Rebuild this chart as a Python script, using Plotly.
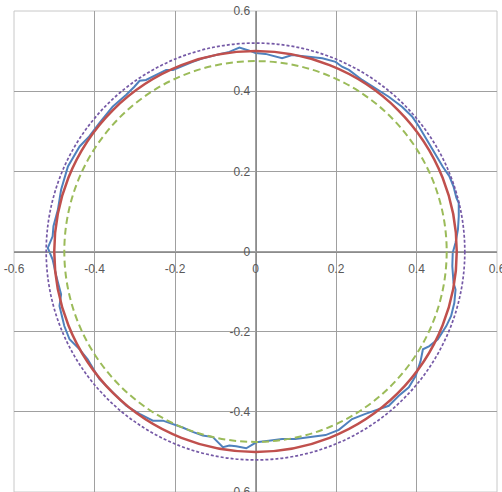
import plotly.graph_objects as go

# Axis ticks
tick_vals = [-0.6, -0.4, -0.2, 0, 0.2, 0.4, 0.6]
tick_text = ["-0.6", "-0.4", "-0.2", "0", "0.2", "0.4", "0.6"]

blue_x = [0.490, 0.497, 0.503, 0.505, 0.505, 0.499, 0.492, 0.482, 0.465, 0.445, 0.427,
          0.406, 0.389, 0.364, 0.331, 0.298, 0.265, 0.232, 0.215, 0.199, 0.166, 0.132,
          0.091, 0.066, 0.050, 0.025, 0.000,
          -0.015, -0.040, -0.065, -0.098, -0.131, -0.156, -0.189, -0.205, -0.222, -0.247,
          -0.272, -0.288, -0.301, -0.321, -0.355, -0.388, -0.413,
          -0.437, -0.466, -0.483, -0.491, -0.502, -0.504, -0.516, -0.504, -0.495, -0.487,
          -0.483, -0.487, -0.475, -0.462, -0.437, -0.417, -0.396,
          -0.388, -0.355, -0.321, -0.288, -0.255, -0.230, -0.205, -0.181, -0.156, -0.131,
          -0.106, -0.081, -0.065, -0.048, -0.023, 0.002,
          0.033, 0.066, 0.099, 0.141, 0.174, 0.207, 0.240, 0.273, 0.306, 0.331, 0.356,
          0.381, 0.398,
          0.410, 0.416, 0.432, 0.453, 0.474, 0.486, 0.494, 0.497, 0.492, 0.489, 0.490]
blue_y = [-0.003, 0.022, 0.055, 0.088, 0.121, 0.134, 0.162, 0.187, 0.212, 0.246, 0.279,
          0.312, 0.337, 0.361, 0.386, 0.407, 0.428, 0.453, 0.461, 0.473, 0.482, 0.486,
          0.490, 0.482, 0.486, 0.493, 0.495,
          0.501, 0.509, 0.498, 0.490, 0.482, 0.473, 0.459, 0.453, 0.453, 0.440,
          0.428, 0.426, 0.411, 0.391, 0.361, 0.320, 0.287,
          0.262, 0.212, 0.154, 0.104, 0.063, 0.038, 0.009, -0.020, -0.061, -0.095,
          -0.107, -0.136, -0.186, -0.219, -0.244, -0.269, -0.302,
          -0.318, -0.351, -0.385, -0.405, -0.422, -0.422, -0.430, -0.439, -0.450, -0.459,
          -0.463, -0.488, -0.484, -0.486, -0.491, -0.476,
          -0.472, -0.468, -0.468, -0.463, -0.458, -0.445, -0.418, -0.405, -0.393, -0.385, -0.360,
          -0.339, -0.310,
          -0.274, -0.244, -0.236, -0.219, -0.186, -0.161, -0.128, -0.095, -0.078, -0.037, -0.003]

# Reference circles (radius)
outer_radius = 0.52
mean_radius = 0.50
inner_radius = 0.475

fig = go.Figure()
fig.add_trace(go.Scatter(x=blue_x, y=blue_y, mode="lines",
                         line=dict(color="#4f81bd", width=2), showlegend=False,
                         hoverinfo="skip"))

def circle(r, color, width, dash):
    fig.add_shape(type="circle", xref="x", yref="y", x0=-r, x1=r, y0=-r, y1=r,
                  line=dict(color=color, width=width, dash=dash), layer="above")

circle(mean_radius, "#c0504d", 2.5, "solid")
circle(inner_radius, "#9bbb59", 2, "7px,4px")
circle(outer_radius, "#7559a6", 1.7, "3px,2px")

# plot border
fig.add_shape(type="rect", xref="paper", yref="paper", x0=0, x1=1, y0=0, y1=1,
              line=dict(color="#c8c8c8", width=1), layer="below")

tickfont = dict(family="Liberation Sans, Arial, sans-serif", size=12, color="#595959")

fig.update_layout(
    width=502, height=492,
    margin=dict(l=14, r=5, t=11, b=0, autoexpand=False),
    paper_bgcolor="white", plot_bgcolor="white",
    showlegend=False,
    xaxis=dict(range=[-0.6, 0.6], tickvals=tick_vals, ticktext=tick_text,
               showgrid=True, gridcolor="#a0a0a0", gridwidth=1, zeroline=False,
               showline=True, linecolor="#8c8c8c", linewidth=1,
               anchor="free", position=0.5, automargin=False,
               ticks="outside", ticklen=6, tickcolor="rgba(0,0,0,0)",
               ticklabeloverflow="allow",
               tickfont=tickfont, fixedrange=True),
    yaxis=dict(range=[-0.6, 0.6], tickvals=tick_vals, ticktext=tick_text,
               showgrid=True, gridcolor="#a0a0a0", gridwidth=1, zeroline=False,
               showline=True, linecolor="#8c8c8c", linewidth=1,
               anchor="free", position=0.5, automargin=False,
               ticks="outside", ticklen=3, tickcolor="rgba(0,0,0,0)",
               ticklabeloverflow="allow",
               tickfont=tickfont, fixedrange=True),
)

fig.write_html("out.html", config={"displayModeBar": False},
               post_script="document.body.style.margin='0';document.body.style.overflow='hidden';")
